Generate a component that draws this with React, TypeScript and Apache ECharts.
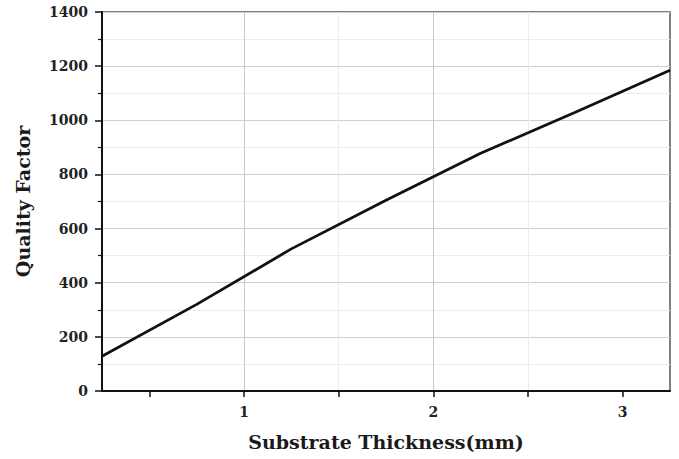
import React, { useEffect, useRef } from "react";
import * as echarts from "echarts";

const thickness = [0.25, 0.75, 1.25, 1.75, 2.25, 2.75, 3.25];
const qualityFactor = [128, 320, 525, 705, 878, 1030, 1185];
const xLabelValues = [1, 2, 3];
const xTickValues = [0.5, 1, 1.5, 2, 2.5, 3];

const FONT = "DejaVu Serif";

export default function App() {
  const ref = useRef<HTMLDivElement>(null);
  useEffect(() => {
    if (!ref.current) return;
    const chart = echarts.init(ref.current, null, { renderer: "svg" });
    chart.setOption({
      animation: false,
      backgroundColor: "#ffffff",
      grid: {
        left: 102,
        top: 12,
        right: 9,
        bottom: 68,
        show: true,
        borderColor: "#555",
        borderWidth: 1.5,
        backgroundColor: "transparent",
      },
      xAxis: {
        type: "value",
        min: 0.25,
        max: 3.25,
        minInterval: 0.5,
        maxInterval: 0.5,
        name: "Substrate Thickness(mm)",
        nameLocation: "middle",
        nameGap: 41,
        nameTextStyle: { fontFamily: FONT, fontWeight: "bold", fontSize: 19, color: "#1a1a1a" },
        axisLine: { show: true, onZero: false, lineStyle: { color: "#111", width: 2 } },
        axisTick: { show: true, inside: false, length: 6, customValues: xTickValues, lineStyle: { color: "#111", width: 1.5 } },
        axisLabel: {
          customValues: xLabelValues,
          margin: 14,
          fontFamily: FONT,
          fontWeight: "bold",
          fontSize: 14,
          color: "#222",
          formatter: (v: number) => (Number.isInteger(v) ? String(v) : ""),
        },
        splitLine: {
          show: true,
          showMinLine: false,
          showMaxLine: false,
          lineStyle: { color: ["#c8c8c8", "#ececec"], width: 1 },
        },
        minorTick: { show: false },
      },
      yAxis: {
        type: "value",
        min: 0,
        max: 1400,
        interval: 200,
        name: "Quality Factor",
        nameLocation: "middle",
        nameRotate: 90,
        nameGap: 70,
        nameTextStyle: { fontFamily: FONT, fontWeight: "bold", fontSize: 19, color: "#1a1a1a" },
        axisLine: { show: true, onZero: false, lineStyle: { color: "#111", width: 2 } },
        axisTick: { show: true, inside: false, length: 7, lineStyle: { color: "#111", width: 1.5 } },
        minorTick: { show: true, splitNumber: 2, length: 4, lineStyle: { color: "#111", width: 1.2 } },
        axisLabel: {
          margin: 14,
          fontFamily: FONT,
          fontWeight: "bold",
          fontSize: 14,
          color: "#222",
          formatter: (v: number) => String(v),
        },
        splitLine: { show: true, lineStyle: { color: "#cfcfcf", width: 1 } },
        minorSplitLine: { show: true, lineStyle: { color: "#ececec", width: 1 } },
      },
      series: [
        {
          type: "line",
          data: thickness.map((t, i) => [t, qualityFactor[i]]),
          showSymbol: false,
          smooth: false,
          lineStyle: { color: "#111", width: 2.8 },
          z: 5,
        },
      ],
    });
    return () => chart.dispose();
  }, []);
  return <div ref={ref} style={{ width: 679, height: 459, position: "absolute", left: 0, top: 0 }} />;
}
